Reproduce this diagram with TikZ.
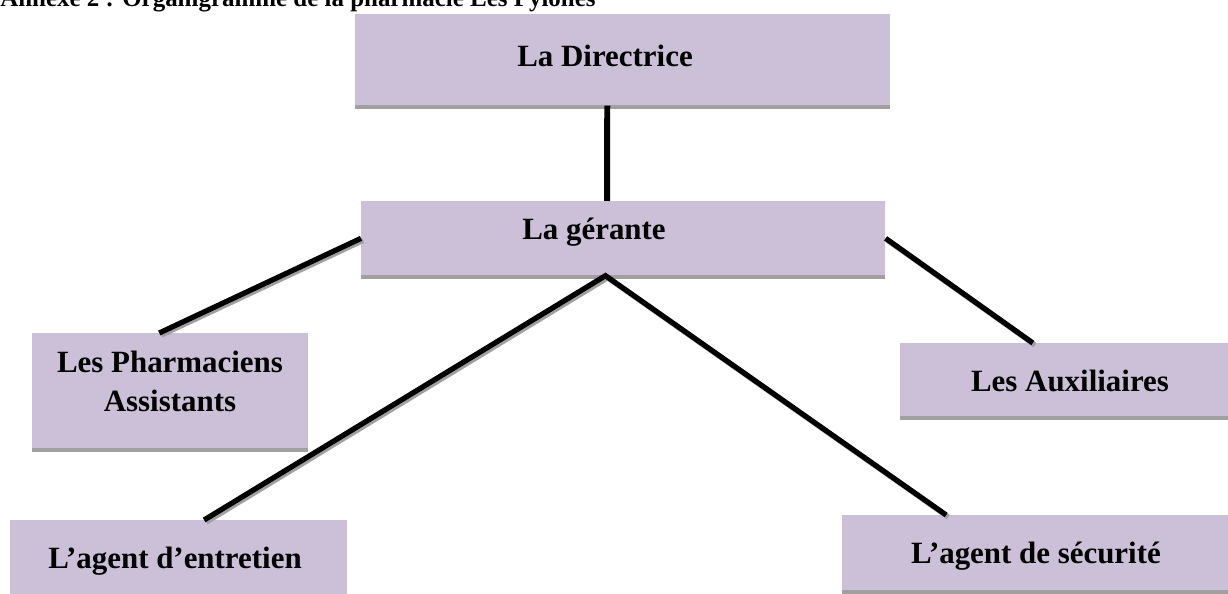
\documentclass[tikz,border=0pt]{standalone}
\usepackage{fontspec}
\setmainfont{Liberation Serif}
\usetikzlibrary{shadows,calc}
\definecolor{boxfill}{RGB}{204,192,217}
\definecolor{shd}{RGB}{160,160,160}
\tikzset{
  orgbox/.style={rectangle, fill=boxfill, anchor=north west, inner sep=0pt,
    drop shadow={shadow xshift=0pt, shadow yshift=-2.3pt, fill=shd, opacity=1}},
  lbl/.style={anchor=base, inner sep=0pt, font=\fontsize{17.6}{22.7}\selectfont\bfseries, align=center},
  conn/.style={line width=3pt, black},
  connshd/.style={line width=3pt, shd, transform canvas={xshift=1.2pt, yshift=-1.2pt}}
}
\begin{document}
\begin{tikzpicture}[x=0.02cm, y=-0.02cm]
\useasboundingbox (0,0) rectangle (1228,594);
\node[anchor=base west, inner sep=0pt, font=\fontsize{14.2}{17}\selectfont\bfseries] (title) at (0,7) {Annexe 2 : Organigramme de la pharmacie Les Pylones};
% boxes
\node[orgbox, minimum width=10.7cm, minimum height=1.82cm] (dir) at (355,14) {};
\node[orgbox, minimum width=10.48cm, minimum height=1.48cm] (ger) at (361,201) {};
\node[orgbox, minimum width=5.52cm, minimum height=2.3cm] (ph) at (32,333) {};
\node[orgbox, minimum width=6.8cm, minimum height=1.46cm] (au) at (900,343) {};
\node[orgbox, minimum width=6.74cm, minimum height=2.0cm] (ae) at (10,520) {};
\node[orgbox, minimum width=8.0cm, minimum height=1.5cm] (as) at (842,515) {};
% labels
\node[lbl] (tdir) at (605,67) {La Directrice};
\node[lbl] (tger) at (594,240) {La gérante};
\node[lbl] (tph) at (170,412) {Les Pharmaciens\\Assistants};
\node[lbl] (tau) at (1070,392) {Les Auxiliaires};
\node[lbl] (tae) at (175,568) {L’agent d’entretien};
\node[lbl] (tas) at (1036,563) {L’agent de sécurité};
% connection points
\coordinate (dirb) at ($(dir.south west)!0.471!(dir.south east)$);
\coordinate (gert) at ($(ger.north west)!0.469!(ger.north east)$);
\coordinate (apex) at ($(ger.south west)!0.466!(ger.south east)$);
\coordinate (pht) at ($(ph.north west)!0.46!(ph.north east)$);
\coordinate (aut) at ($(au.north west)!0.39!(au.north east)$);
\coordinate (aet) at ($(ae.north west)!0.575!(ae.north east)$);
\coordinate (ast) at ($(as.north west)!0.26!(as.north east)$);
% connectors shadows
\draw[connshd] (ger.west) -- (pht);
\draw[connshd] (ger.east) -- (aut);
\draw[connshd] (aet) -- (apex) -- (ast);
% connectors
\draw[line width=3.4pt, black] (dirb) -- (gert);
\draw[conn] (ger.west) -- (pht);
\draw[conn] (ger.east) -- (aut);
\draw[conn] (aet) -- (apex) -- (ast);
\end{tikzpicture}
\end{document}
